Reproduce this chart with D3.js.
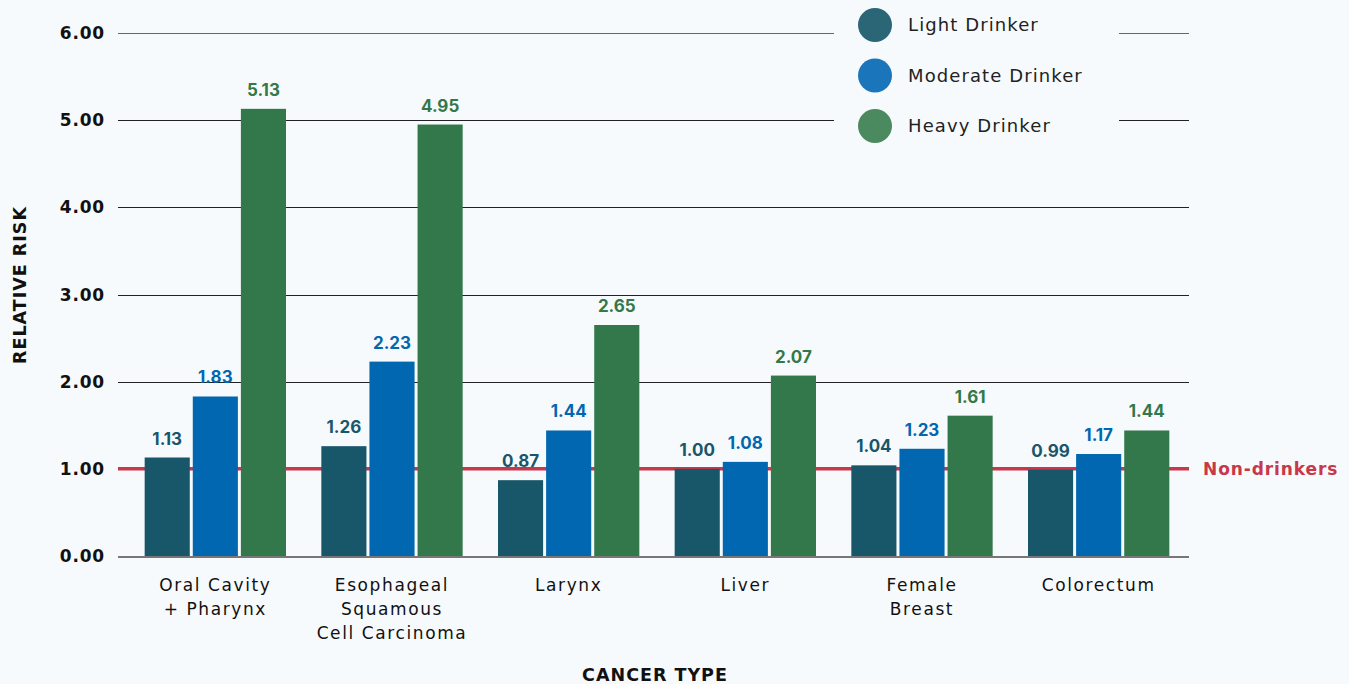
<!DOCTYPE html>
<html>
<head>
<meta charset="utf-8">
<script src="https://cdn.jsdelivr.net/npm/d3@7"></script>
<style>
  html, body { margin: 0; padding: 0; background: #f7fafc; }
  svg { display: block; font-family: "DejaVu Sans", Inter, sans-serif; }
  .value { font-family: Inter, "DejaVu Sans", sans-serif; }
</style>
</head>
<body>
<svg id="chart" width="1349" height="684"></svg>
<script>
// Relative risk of cancer by drinking level
const categories = [
  ["Oral Cavity", "+ Pharynx"],
  ["Esophageal", "Squamous", "Cell Carcinoma"],
  ["Larynx"],
  ["Liver"],
  ["Female", "Breast"],
  ["Colorectum"]
];
const seriesNames = ["Light Drinker", "Moderate Drinker", "Heavy Drinker"];
const lightValues    = [1.13, 1.26, 0.87, 1.00, 1.04, 0.99];
const moderateValues = [1.83, 2.23, 1.44, 1.08, 1.23, 1.17];
const heavyValues    = [5.13, 4.95, 2.65, 2.07, 1.61, 1.44];
const yTicks = [0, 1, 2, 3, 4, 5, 6];
const referenceValue = 1.0;
const referenceLabel = "Non-drinkers";

const barColors    = ["#18566a", "#0067b0", "#33784b"];
const legendColors = ["#2b6677", "#1a75bb", "#4a8a5e"];

const svg = d3.select("#chart");
const catKeys = categories.map(c => c.join(" "));
const seriesValues = [lightValues, moderateValues, heavyValues];

const y = d3.scaleLinear().domain([0, 6]).range([556, 33]);
const x0 = d3.scaleBand().domain(catKeys).range([127, 1187])
  .paddingInner(0.2).paddingOuter(0.1);
const x1 = d3.scaleBand().domain(seriesNames).range([0, x0.bandwidth()])
  .paddingInner(0.0625);

const gridLeft = 118, gridRight = 1189;

// horizontal gridlines
svg.append("g").selectAll("line")
  .data(yTicks.filter(t => t > 0))
  .join("line")
  .attr("x1", gridLeft).attr("x2", gridRight)
  .attr("y1", d => Math.round(y(d)) + 0.5).attr("y2", d => Math.round(y(d)) + 0.5)
  .attr("stroke", d => d === 6 ? "#666" : "#222")
  .attr("stroke-width", 1);

// y tick labels
svg.append("g").selectAll("text")
  .data(yTicks)
  .join("text")
  .attr("x", 105).attr("y", d => y(d))
  .attr("dy", "0.36em")
  .attr("text-anchor", "end")
  .attr("font-size", 17).attr("font-weight", 700).attr("fill", "#111")
  .attr("letter-spacing", 0.8)
  .text(d => d3.format(".2f")(d));

// reference line for non-drinkers
svg.append("line")
  .attr("x1", gridLeft).attr("x2", gridRight)
  .attr("y1", y(referenceValue)).attr("y2", y(referenceValue))
  .attr("stroke", "#c8374a").attr("stroke-width", 3.5);
svg.append("text")
  .attr("x", 1203).attr("y", y(referenceValue)).attr("dy", "0.36em")
  .attr("font-size", 17).attr("font-weight", 700).attr("fill", "#c8374a")
  .attr("letter-spacing", 0.9)
  .text(referenceLabel);

// baseline
svg.append("line")
  .attr("x1", gridLeft).attr("x2", gridRight)
  .attr("y1", y(0) + 1).attr("y2", y(0) + 1)
  .attr("stroke", "#777").attr("stroke-width", 2);

// bars
const groups = svg.append("g").selectAll("g")
  .data(catKeys.map((k, i) => ({ key: k, vals: seriesValues.map((s, j) => ({ name: seriesNames[j], v: s[i], j })) })))
  .join("g")
  .attr("transform", d => `translate(${x0(d.key)},0)`);

groups.selectAll("rect")
  .data(d => d.vals)
  .join("rect")
  .attr("x", d => x1(d.name))
  .attr("width", x1.bandwidth())
  .attr("y", d => y(d.v))
  .attr("height", d => y(0) - y(d.v))
  .attr("fill", d => barColors[d.j]);

groups.selectAll("text")
  .data(d => d.vals)
  .join("text")
  .attr("class", "value")
  .attr("x", d => x1(d.name) + x1.bandwidth() / 2)
  .attr("y", d => y(d.v) - 13)
  .attr("text-anchor", "middle")
  .attr("font-size", 17).attr("font-weight", 700)
  .attr("fill", d => barColors[d.j])
  .text(d => d3.format(".2f")(d.v));

// category labels
const catLabels = svg.append("g").selectAll("text")
  .data(categories)
  .join("text")
  .attr("x", (d, i) => x0(catKeys[i]) + x0.bandwidth() / 2)
  .attr("y", 591)
  .attr("text-anchor", "middle")
  .attr("font-size", 17).attr("fill", "#111")
  .attr("letter-spacing", 1.6);
catLabels.selectAll("tspan")
  .data(d => d)
  .join("tspan")
  .attr("x", function () { return d3.select(this.parentNode).attr("x"); })
  .attr("dy", (d, i) => i === 0 ? 0 : 24)
  .text(d => d);

// axis titles
svg.append("text")
  .attr("x", 655).attr("y", 681)
  .attr("text-anchor", "middle")
  .attr("font-size", 17.5).attr("font-weight", 700).attr("fill", "#111")
  .attr("letter-spacing", 1)
  .text("CANCER TYPE");
svg.append("text")
  .attr("transform", "translate(26,285) rotate(-90)")
  .attr("text-anchor", "middle")
  .attr("font-size", 17.5).attr("font-weight", 700).attr("fill", "#111")
  .attr("letter-spacing", 1)
  .text("RELATIVE RISK");

// legend, with a backdrop clearing the gridlines behind it
svg.append("rect")
  .attr("x", 834).attr("y", 0).attr("width", 285).attr("height", 145)
  .attr("fill", "#f7fafc");
const legend = svg.append("g").selectAll("g")
  .data(seriesNames)
  .join("g")
  .attr("transform", (d, i) => `translate(875,${25 + i * 50.5})`);
legend.append("circle").attr("r", 17).attr("fill", (d, i) => legendColors[i]);
legend.append("text")
  .attr("x", 33).attr("dy", "0.36em")
  .attr("font-size", 18).attr("fill", "#222")
  .attr("letter-spacing", 1.1)
  .text(d => d);
</script>
</body>
</html>
